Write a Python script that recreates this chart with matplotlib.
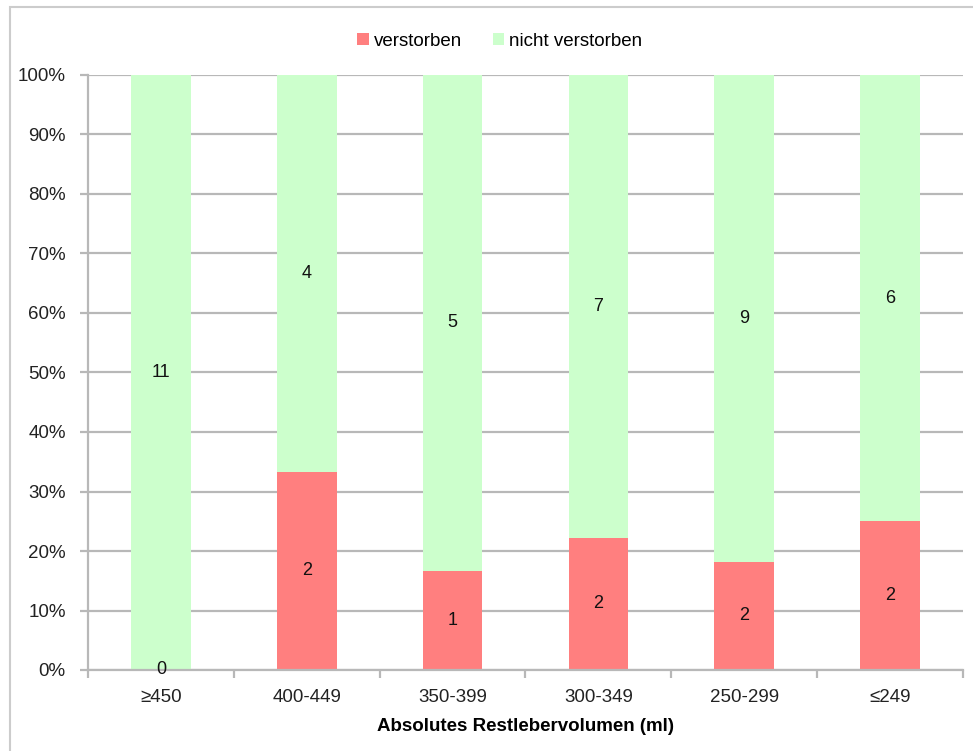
import matplotlib.pyplot as plt
import numpy as np
from matplotlib.patches import Rectangle
from matplotlib.ticker import PercentFormatter

plt.rcParams['font.family'] = ['Liberation Sans', 'DejaVu Sans']

categories = ['≥450', '400-449', '350-399', '300-349', '250-299', '≤249']
verstorben = [0, 2, 1, 2, 2, 2]
nicht_verstorben = [11, 4, 5, 7, 9, 6]

red = '#ff7f7f'
green = '#ccffcc'
gray = '#b8b8b8'

dead = np.array(verstorben, dtype=float)
alive = np.array(nicht_verstorben, dtype=float)
total = dead + alive
p_dead = dead / total * 100
p_alive = alive / total * 100
x = np.arange(len(categories))

fig = plt.figure(figsize=(9.73, 7.51), dpi=100)
# thin outer frame around the chart area
fig.patches.append(Rectangle((10 / 973, -0.05), 1.2, 1 - 7 / 751 + 0.05,
                             transform=fig.transFigure, fill=False,
                             edgecolor='#cccccc', linewidth=1.5))
ax = fig.add_axes([88 / 973, 1 - 670 / 751, 875 / 973, 595 / 751])

ax.bar(x, p_dead, width=0.41, color=red, label='verstorben', zorder=2)
ax.bar(x, p_alive, width=0.41, bottom=p_dead, color=green,
       label='nicht verstorben', zorder=2)

for i in range(len(x)):
    ax.text(x[i], p_dead[i] / 2, '%d' % verstorben[i], ha='center',
            va='center', fontsize=13, color='#111111', zorder=3)
    ax.text(x[i], p_dead[i] + p_alive[i] / 2, '%d' % nicht_verstorben[i],
            ha='center', va='center', fontsize=13, color='#111111', zorder=3)

ax.set_xlim(-0.5, len(x) - 0.5)
ax.set_ylim(0, 100)
ax.set_yticks(np.arange(0, 101, 10))
ax.yaxis.set_major_formatter(PercentFormatter(decimals=0))
ax.yaxis.grid(True, color=gray, linewidth=1.6, zorder=0)
ax.set_axisbelow(True)

ax.set_xticks(x)
ax.set_xticklabels(categories)
ax.set_xticks(np.arange(-0.5, len(x)), minor=True)
ax.tick_params(axis='x', which='major', length=0, pad=14, labelsize=13.5,
               labelcolor='#222222')
ax.tick_params(axis='x', which='minor', length=6, width=1.6, color=gray,
               direction='out')
ax.tick_params(axis='y', length=6, width=1.6, color=gray, labelsize=13.5,
               labelcolor='#222222', pad=10)

for s in ['top', 'right']:
    ax.spines[s].set_visible(False)
for s in ['left', 'bottom']:
    ax.spines[s].set_color(gray)
    ax.spines[s].set_linewidth(1.6)

ax.set_xlabel('Absolutes Restlebervolumen (ml)', fontsize=13.5,
              fontweight='bold', labelpad=8)

fig.legend(loc='center', bbox_to_anchor=(500 / 973, 1 - 41 / 751), ncol=2,
           frameon=False, fontsize=13.5, handlelength=0.6, handleheight=0.6,
           handletextpad=0.3, columnspacing=1.6)

plt.savefig('out.png', dpi=100)
